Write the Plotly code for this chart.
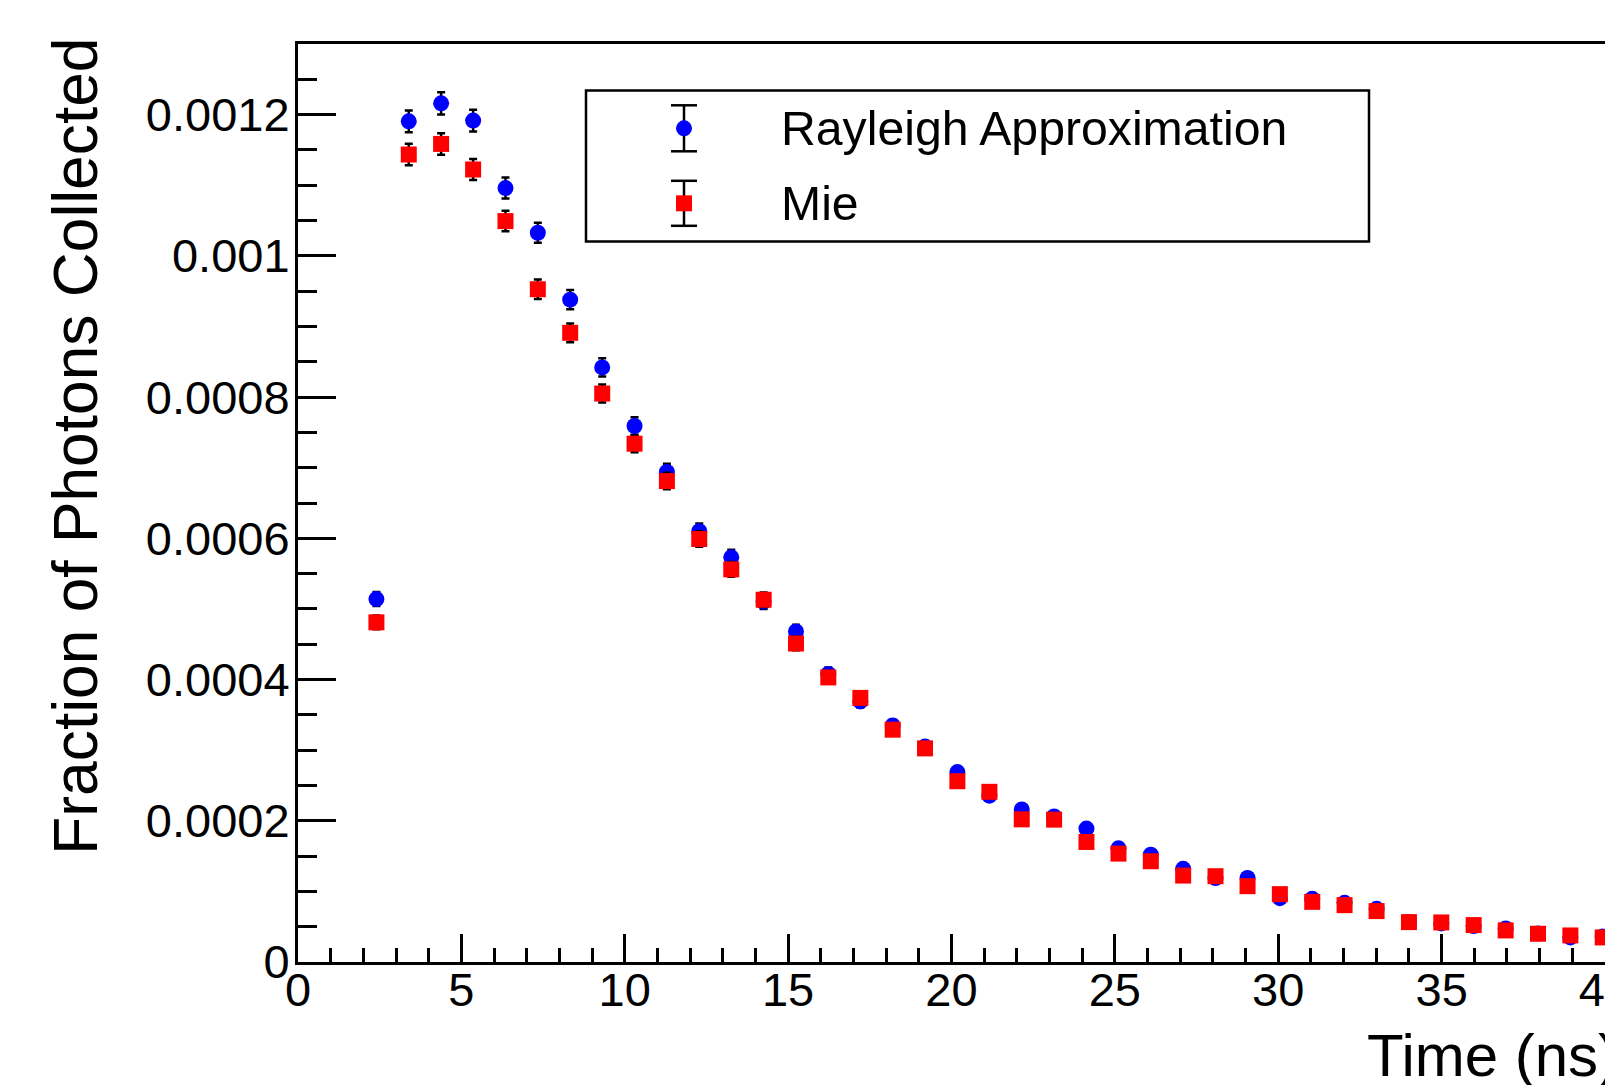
import plotly.graph_objects as go

# ---------------- data ----------------
time_ns = [2.40, 3.39, 4.38, 5.36, 6.35, 7.34, 8.33, 9.31, 10.30, 11.29,
           12.28, 13.26, 14.25, 15.24, 16.23, 17.21, 18.20, 19.19, 20.18, 21.16,
           22.15, 23.14, 24.13, 25.11, 26.10, 27.09, 28.08, 29.06, 30.05, 31.04,
           32.03, 33.01, 34.00, 34.99, 35.98, 36.96, 37.95, 38.94, 39.93]

rayleigh = [0.000514, 0.0011905, 0.001216, 0.0011915, 0.001096, 0.0010327, 0.000938, 0.000842, 0.000759, 0.000694,
            0.000610, 0.000573, 0.000510, 0.000468, 0.000408, 0.000369, 0.000335, 0.000305, 0.000269, 0.0002355,
            0.000216, 0.000206, 0.000189, 0.000161, 0.000152, 0.000132, 0.000119, 0.000119, 0.0000904, 0.0000895,
            0.0000838, 0.0000753, 0.0000565, 0.0000546, 0.0000509, 0.0000475, 0.0000405, 0.0000348, 0.000036]
rayleigh_err = [1.0e-5, 1.55e-5, 1.57e-5, 1.55e-5, 1.48e-5, 1.43e-5, 1.37e-5, 1.29e-5, 1.23e-5, 1.17e-5,
                1.10e-5, 1.07e-5, 1.01e-5, 0.97e-5, 0.90e-5, 0.86e-5, 0.82e-5, 0.78e-5, 0.73e-5, 0.69e-5,
                0.66e-5, 0.64e-5, 0.61e-5, 0.57e-5, 0.55e-5, 0.51e-5, 0.49e-5, 0.49e-5, 0.42e-5, 0.42e-5,
                0.41e-5, 0.39e-5, 0.34e-5, 0.33e-5, 0.32e-5, 0.31e-5, 0.29e-5, 0.27e-5, 0.27e-5]

mie = [0.000481, 0.0011435, 0.0011585, 0.0011223, 0.0010492, 0.0009527, 0.000891, 0.000805, 0.000734, 0.000681,
       0.000599, 0.000556, 0.000513, 0.000451, 0.000403, 0.000374, 0.000329, 0.0003025, 0.000256, 0.000241,
       0.000202, 0.0002016, 0.000170, 0.0001535, 0.0001427, 0.0001224, 0.0001215, 0.0001074, 0.0000961, 0.0000852,
       0.0000805, 0.0000721, 0.0000565, 0.0000560, 0.0000523, 0.0000447, 0.0000400, 0.0000376, 0.0000348]
mie_err = [0.98e-5, 1.51e-5, 1.52e-5, 1.50e-5, 1.45e-5, 1.38e-5, 1.33e-5, 1.27e-5, 1.21e-5, 1.17e-5,
           1.09e-5, 1.05e-5, 1.01e-5, 0.95e-5, 0.90e-5, 0.86e-5, 0.81e-5, 0.78e-5, 0.72e-5, 0.69e-5,
           0.64e-5, 0.64e-5, 0.59e-5, 0.56e-5, 0.54e-5, 0.50e-5, 0.50e-5, 0.47e-5, 0.44e-5, 0.41e-5,
           0.40e-5, 0.38e-5, 0.34e-5, 0.34e-5, 0.33e-5, 0.30e-5, 0.29e-5, 0.28e-5, 0.27e-5]

series_names = ["Rayleigh Approximation", "Mie"]
x_tick_vals = [0, 5, 10, 15, 20, 25, 30, 35, 40]
y_tick_vals = [0, 0.0002, 0.0004, 0.0006, 0.0008, 0.001, 0.0012]
y_tick_text = ["0", "0.0002", "0.0004", "0.0006", "0.0008", "0.001", "0.0012"]
x_title = "Time (ns)"
y_title = "Fraction of Photons Collected"

# ---------------- layout geometry ----------------
W, H = 1605, 1085
ML, MR, MT, MB = 298, 0, 44, 123
PW, PH = W - ML - MR, H - MT - MB
FONT = "Liberation Sans, Arial, Helvetica, sans-serif"
BLUE, RED = "#0000ff", "#ff0000"


def px(xp):
    return (xp - ML) / PW


def py(yp):
    return (H - MB - yp) / PH


fig = go.Figure()
fig.add_trace(go.Scatter(
    x=time_ns, y=rayleigh, mode="markers", name=series_names[0],
    marker=dict(symbol="circle", size=16, color=BLUE, line=dict(width=0)),
    error_y=dict(type="data", array=rayleigh_err, color="black", thickness=2.5, width=4),
    showlegend=False))
fig.add_trace(go.Scatter(
    x=time_ns, y=mie, mode="markers", name=series_names[1],
    marker=dict(symbol="square", size=16, color=RED, line=dict(width=0)),
    error_y=dict(type="data", array=mie_err, color="black", thickness=2.5, width=4),
    showlegend=False))

axis_common = dict(showline=True, linecolor="black", linewidth=3, ticks="inside",
                   tickcolor="black", tickwidth=2.5, showgrid=False, zeroline=False,
                   ticklabeloverflow="allow", automargin=False,
                   tickfont=dict(family=FONT, size=47, color="black"))

fig.update_xaxes(range=[0, 40], tickmode="array", tickvals=x_tick_vals, ticklen=28,
                 mirror=True, ticklabelstandoff=-15,
                 minor=dict(tickmode="linear", tick0=0, dtick=1, ticks="inside", ticklen=14,
                            tickwidth=2.5, tickcolor="black", showgrid=False),
                 **axis_common)
fig.update_yaxes(range=[0, 0.0013], tickmode="array", tickvals=y_tick_vals, ticktext=y_tick_text,
                 ticklen=38, ticklabelstandoff=-4,
                 minor=dict(tickmode="linear", tick0=0, dtick=0.00005, ticks="inside", ticklen=19,
                            tickwidth=2.5, tickcolor="black", showgrid=False),
                 **axis_common)

shapes = []
annotations = []

# legend box
shapes.append(dict(type="rect", xref="paper", yref="paper",
                   x0=px(586), x1=px(1369), y0=py(241.5), y1=py(90.5),
                   line=dict(color="black", width=2.5), fillcolor="white", layer="above"))
legend_rows = [(128.3, 23, "circle", BLUE), (203.3, 22.5, "square", RED)]
gx = 684
for (cy, half, sym, col), name in zip(legend_rows, series_names):
    # error bar glyph
    shapes.append(dict(type="line", xref="paper", yref="paper", x0=px(gx), x1=px(gx),
                       y0=py(cy - half), y1=py(cy + half), line=dict(color="black", width=2.5), layer="above"))
    for yy in (cy - half, cy + half):
        shapes.append(dict(type="line", xref="paper", yref="paper", x0=px(gx - 13), x1=px(gx + 13),
                           y0=py(yy), y1=py(yy), line=dict(color="black", width=2.5), layer="above"))
    shapes.append(dict(type="circle" if sym == "circle" else "rect", xref="paper", yref="paper",
                       x0=px(gx - 8), x1=px(gx + 8), y0=py(cy + 8), y1=py(cy - 8),
                       line=dict(width=0), fillcolor=col, layer="above"))
    annotations.append(dict(text=name, xref="paper", yref="paper", x=px(779), y=py(cy),
                            xanchor="left", yanchor="middle", showarrow=False,
                            font=dict(family=FONT, size=48.2, color="black")))

# axis titles (ROOT style: aligned at the axis end)
annotations.append(dict(text=x_title, xref="paper", yref="paper", x=px(1365), y=py(1055.5),
                        xanchor="left", yanchor="middle", showarrow=False,
                        font=dict(family=FONT, size=60, color="black")))
annotations.append(dict(text=y_title, xref="paper", yref="paper", x=px(76), y=py(446.7),
                        xanchor="center", yanchor="middle", textangle=-90, showarrow=False,
                        font=dict(family=FONT, size=62.3, color="black")))

fig.update_layout(width=W, height=H, margin=dict(l=ML, r=MR, t=MT, b=MB, pad=0, autoexpand=False),
                  paper_bgcolor="white", plot_bgcolor="white", showlegend=False,
                  shapes=shapes, annotations=annotations,
                  font=dict(family=FONT, color="black"))

fig.write_html("out.html", config={"displayModeBar": False},
               post_script="document.body.style.margin='0';document.body.style.overflow='hidden';")
